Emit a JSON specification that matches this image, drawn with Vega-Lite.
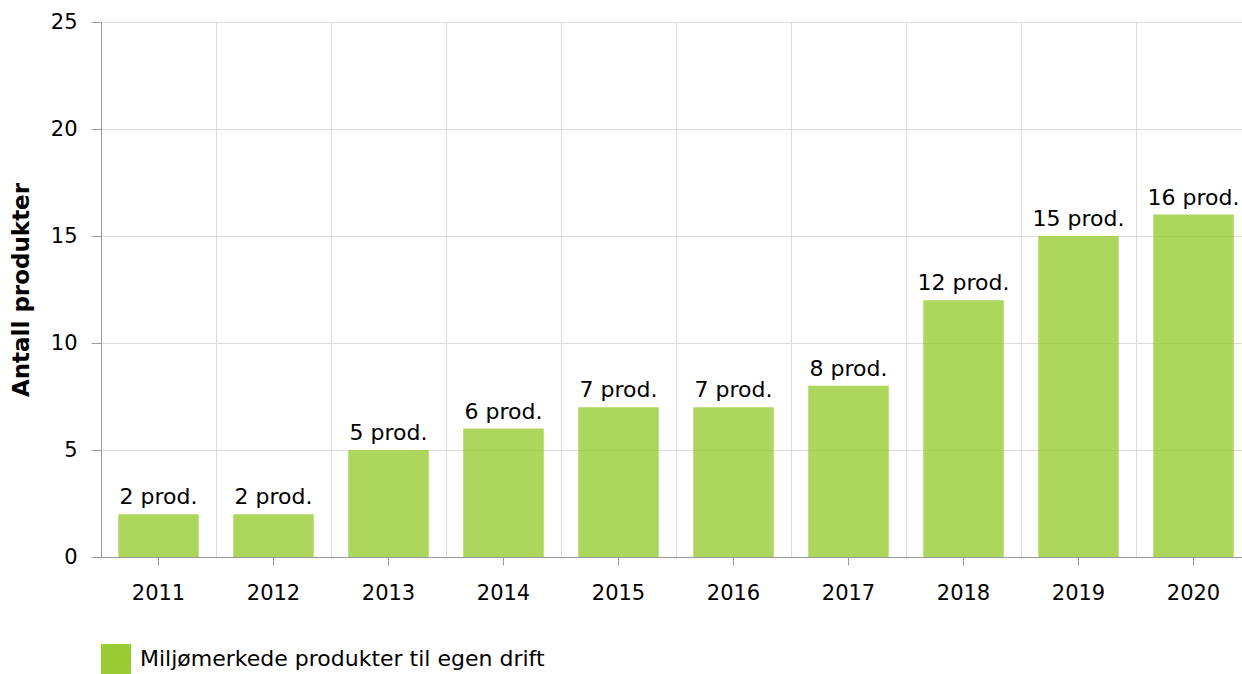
{
  "$schema": "https://vega.github.io/schema/vega-lite/v6.json",
  "width": 1150,
  "height": 535,
  "autosize": {"type": "none"},
  "padding": {"left": 101, "top": 22, "right": 0, "bottom": 117},
  "background": "white",
  "config": {
    "font": "DejaVu Sans",
    "view": {"stroke": null},
    "axis": {"labelFont": "DejaVu Sans", "titleFont": "DejaVu Sans"}
  },
  "data": {
    "values": [
      {"year": "2011", "value": 2, "label": "2 prod.", "series": "Miljømerkede produkter til egen drift"},
      {"year": "2012", "value": 2, "label": "2 prod.", "series": "Miljømerkede produkter til egen drift"},
      {"year": "2013", "value": 5, "label": "5 prod.", "series": "Miljømerkede produkter til egen drift"},
      {"year": "2014", "value": 6, "label": "6 prod.", "series": "Miljømerkede produkter til egen drift"},
      {"year": "2015", "value": 7, "label": "7 prod.", "series": "Miljømerkede produkter til egen drift"},
      {"year": "2016", "value": 7, "label": "7 prod.", "series": "Miljømerkede produkter til egen drift"},
      {"year": "2017", "value": 8, "label": "8 prod.", "series": "Miljømerkede produkter til egen drift"},
      {"year": "2018", "value": 12, "label": "12 prod.", "series": "Miljømerkede produkter til egen drift"},
      {"year": "2019", "value": 15, "label": "15 prod.", "series": "Miljømerkede produkter til egen drift"},
      {"year": "2020", "value": 16, "label": "16 prod.", "series": "Miljømerkede produkter til egen drift"}
    ]
  },
  "encoding": {
    "x": {
      "field": "year",
      "type": "ordinal",
      "scale": {"paddingInner": 0.3, "paddingOuter": 0.15}
    },
    "y": {
      "field": "value",
      "type": "quantitative",
      "scale": {"domain": [0, 25], "nice": false}
    }
  },
  "layer": [
    {
      "mark": {"type": "bar", "opacity": 0.8},
      "encoding": {
        "x": {
          "field": "year",
          "type": "ordinal",
          "axis": {
            "orient": "bottom",
            "title": null,
            "labels": false,
            "ticks": false,
            "domain": false,
            "grid": true,
            "bandPosition": -0.2142857,
            "gridColor": "#dddddd",
            "gridWidth": 1
          }
        },
        "y": {
          "field": "value",
          "type": "quantitative",
          "axis": {
            "title": "Antall produkter",
            "titleFontSize": 23,
            "titleFontWeight": "bold",
            "titleColor": "#000000",
            "titlePadding": 17,
            "values": [0, 5, 10, 15, 20, 25],
            "labelFontSize": 21,
            "labelColor": "#000000",
            "labelPadding": 14,
            "tickSize": 10,
            "tickColor": "#999999",
            "domainColor": "#999999",
            "gridColor": "#dddddd",
            "grid": true
          }
        },
        "color": {
          "field": "series",
          "type": "nominal",
          "scale": {"range": ["#99cc33"]},
          "legend": {
            "title": null,
            "orient": "none",
            "legendX": 0,
            "legendY": 622,
            "padding": 0,
            "symbolType": "square",
            "symbolSize": 900,
            "symbolOpacity": 1,
            "symbolStrokeWidth": 0,
            "labelFontSize": 22,
            "labelColor": "#000000",
            "labelOffset": 9,
            "labelLimit": 0
          }
        }
      }
    },
    {
      "mark": {"type": "text", "baseline": "alphabetic", "dy": -10, "fontSize": 22, "color": "#000000"},
      "encoding": {
        "x": {
          "field": "year",
          "type": "ordinal",
          "axis": {
            "orient": "bottom",
            "title": null,
            "labelFontSize": 21,
            "labelColor": "#000000",
            "labelPadding": 17,
            "labelAngle": 0,
            "tickSize": 8,
            "tickColor": "#999999",
            "domainColor": "#999999",
            "grid": false
          }
        },
        "text": {"field": "label"}
      }
    }
  ],
  "resolve": {"axis": {"x": "independent"}}
}
